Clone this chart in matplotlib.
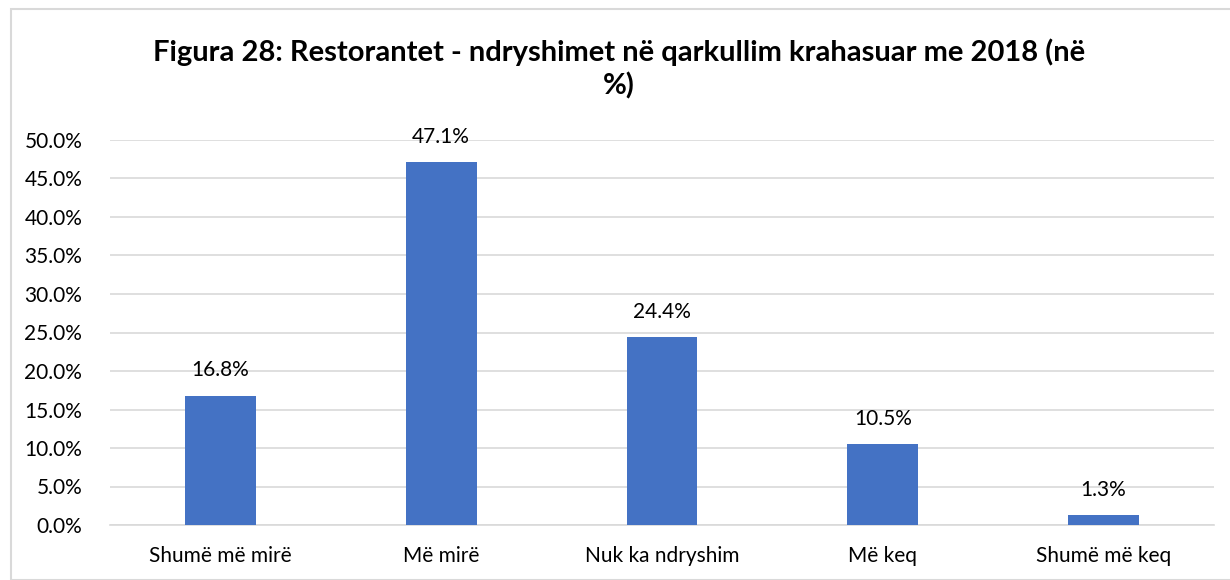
import matplotlib
matplotlib.use("Agg")
import matplotlib.pyplot as plt
from matplotlib.patches import Rectangle
from matplotlib.ticker import PercentFormatter, MultipleLocator

categories = ["Shumë më mirë", "Më mirë", "Nuk ka ndryshim", "Më keq", "Shumë më keq"]
values = [16.8, 47.1, 24.4, 10.5, 1.3]
title = "Figura 28: Restorantet - ndryshimet në qarkullim krahasuar me 2018 (në\n%)"

plt.rcParams['font.family'] = ['Lato', 'DejaVu Sans']
W, H = 1230, 580
fig = plt.figure(figsize=(W / 100, H / 100), dpi=100)

# outer border
fig.patches.append(Rectangle((11 / W, 0), 1.0, 1 - 9 / H, transform=fig.transFigure,
                             fill=False, edgecolor="#d9d9d9", linewidth=1.5))

ax = fig.add_axes([110 / W, (H - 525) / H, (1214 - 110) / W, (525 - 140) / H])
x = range(len(categories))
bars = ax.bar(x, values, width=0.32, color="#4472C4", zorder=3)
ax.set_ylim(0, 50)
ax.set_xlim(-0.5, len(categories) - 0.5)
ax.yaxis.set_major_locator(MultipleLocator(5))
ax.yaxis.set_major_formatter(PercentFormatter(decimals=1))
ax.grid(axis="y", color="#d9d9d9", linewidth=1.2, zorder=0)
for s in ["top", "right", "left"]:
    ax.spines[s].set_visible(False)
ax.spines["bottom"].set_color("#d9d9d9")
ax.spines["bottom"].set_linewidth(1.2)
ax.tick_params(axis="both", length=0, labelsize=15, colors="#000000")
ax.tick_params(axis="y", pad=20)
ax.tick_params(axis="x", pad=15)
ax.set_xticks(list(x))
ax.set_xticklabels(categories)

for b, v in zip(bars, values):
    ax.annotate(f"{v:.1f}%", (b.get_x() + b.get_width() / 2, v), xytext=(0, 11),
                textcoords="offset points", ha="center", va="bottom", fontsize=15, color="#000000")

fig.text((150 + 1088) / 2 / W, 1 - 69 / H, title, ha="center", va="center", fontsize=21,
         fontweight="bold", linespacing=1.3)

fig.savefig("out.png", dpi=100)
